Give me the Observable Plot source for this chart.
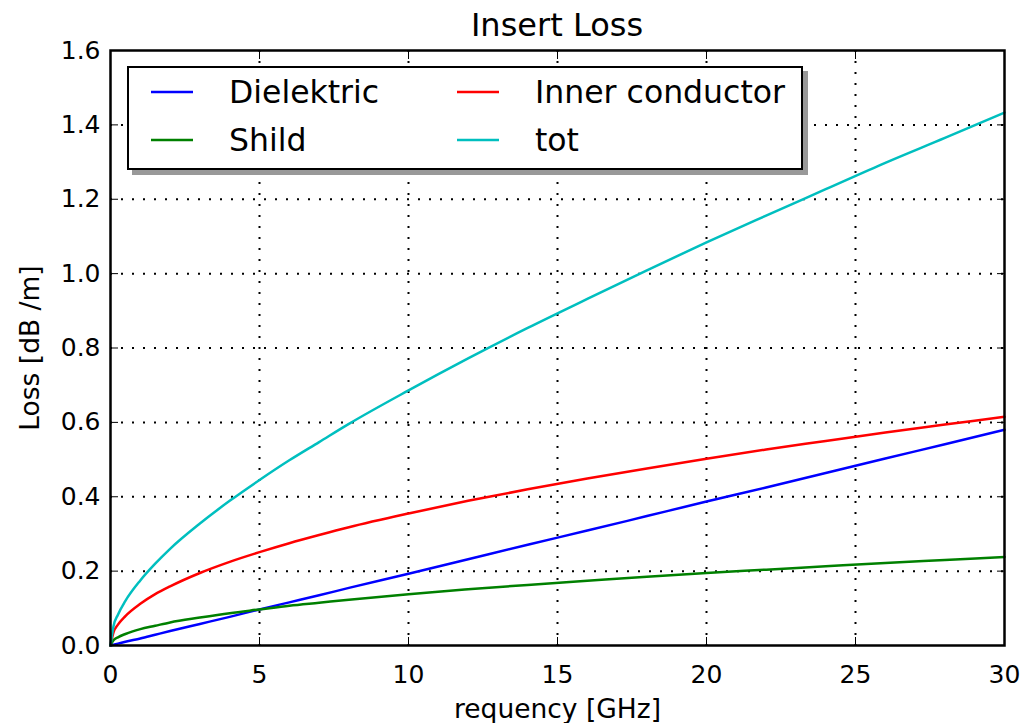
<!DOCTYPE html>
<html>
<head>
<meta charset="utf-8">
<script src="https://cdn.jsdelivr.net/npm/d3@7"></script>
<script src="https://cdn.jsdelivr.net/npm/@observablehq/plot@0.6"></script>
<style>
  html, body { margin: 0; padding: 0; background: white; }
  #wrap { position: relative; width: 1024px; height: 723px; font-family: "DejaVu Sans", sans-serif; }
  #title { position: absolute; left: 110px; width: 894px; top: 0; height: 40px; line-height: 50px; text-align: center; font-size: 32px; color: black; }
  #chart { position: absolute; left: 0; top: 40px; }
  #legend { position: absolute; left: 127px; top: 66px; width: 672px; height: 100px; border: 2px solid black; background: white; box-shadow: 5px 5px 0 #999; font-size: 31.5px; }
  .item { position: absolute; height: 40px; line-height: 40px; white-space: nowrap; }
  .item svg { position: absolute; top: 0; left: 0; }
  .item span { position: absolute; top: 0; }
</style>
</head>
<body>
<div id="wrap">
  <div id="title">Insert Loss</div>
  <div id="chart"></div>
  <div id="legend"></div>
</div>
<script>
// Frequency samples (GHz) and loss values (dB/m)
const freq       = [0, 0.1, 0.25, 0.5, 1, 1.5, 2, 3, 4, 5, 6, 7, 8, 10, 12, 14, 16, 18, 20, 22, 24, 26, 28, 30];
const dielektric = [0, 0.002, 0.005, 0.010, 0.019, 0.029, 0.039, 0.058, 0.077, 0.097, 0.116, 0.135, 0.155, 0.193, 0.232, 0.271, 0.309, 0.348, 0.387, 0.425, 0.464, 0.503, 0.541, 0.580];
const inner      = [0, 0.035, 0.056, 0.079, 0.112, 0.138, 0.159, 0.195, 0.225, 0.251, 0.275, 0.297, 0.318, 0.355, 0.389, 0.420, 0.449, 0.476, 0.502, 0.527, 0.550, 0.573, 0.594, 0.615];
const shild      = [0, 0.014, 0.022, 0.031, 0.044, 0.053, 0.062, 0.075, 0.087, 0.097, 0.107, 0.115, 0.123, 0.138, 0.151, 0.163, 0.174, 0.185, 0.195, 0.204, 0.213, 0.222, 0.230, 0.238];
const tot        = [0, 0.052, 0.083, 0.120, 0.175, 0.220, 0.260, 0.328, 0.389, 0.445, 0.498, 0.547, 0.596, 0.686, 0.772, 0.854, 0.932, 1.009, 1.084, 1.156, 1.227, 1.298, 1.365, 1.433];

const seriesNames  = ["Dielektric", "Inner conductor", "Shild", "tot"];
const seriesColors = ["#0000ff", "#ff0000", "#008000", "#00bfbf"];
const seriesValues = [dielektric, inner, shild, tot];

const xTicks = [0, 5, 10, 15, 20, 25, 30];
const yTicks = [0, 0.2, 0.4, 0.6, 0.8, 1.0, 1.2, 1.4, 1.6];

const rows = [];
seriesNames.forEach((name, s) => {
  freq.forEach((f, i) => rows.push({series: name, f, loss: seriesValues[s][i]}));
});

const lineMarks = seriesNames.map((name, s) =>
  Plot.line(rows.filter(d => d.series === name), {
    x: "f", y: "loss", stroke: seriesColors[s], strokeWidth: 2.5, curve: "monotone-x"
  })
);

const chart = Plot.plot({
  width: 1024,
  height: 683,
  marginLeft: 110,
  marginRight: 20,
  marginTop: 10,
  marginBottom: 78,
  style: {fontFamily: "DejaVu Sans, sans-serif", fontSize: "25px", color: "black", background: "white", overflow: "visible"},
  x: {domain: [0, 30]},
  y: {domain: [0, 1.6]},
  marks: [
    Plot.gridX(xTicks.slice(1, -1), {stroke: "black", strokeOpacity: 1, strokeWidth: 2, strokeDasharray: "2,9"}),
    Plot.gridY(yTicks.slice(1, -1), {stroke: "black", strokeOpacity: 1, strokeWidth: 2, strokeDasharray: "2,9"}),
    ...lineMarks,
    Plot.axisX(xTicks, {anchor: "bottom", tickSize: -8, tickPadding: 28, tickFormat: d3.format("d"), label: null, fontSize: 25}),
    Plot.axisX({anchor: "bottom", ticks: [], label: "requency [GHz]", labelAnchor: "center", labelOffset: 72, labelArrow: "none", fontSize: 26.5}),
    Plot.axisX(xTicks, {anchor: "top", tickSize: -8, tickFormat: () => "", label: null}),
    Plot.axisY(yTicks, {anchor: "left", tickSize: -8, tickPadding: 18, tickFormat: d3.format(".1f"), label: null, fontSize: 25}),
    Plot.axisY({anchor: "left", ticks: [], label: "Loss [dB /m]", labelAnchor: "center", labelOffset: 90, labelArrow: "none", fontSize: 26.5}),
    Plot.axisY(yTicks, {anchor: "right", tickSize: -8, tickFormat: () => "", label: null}),
    Plot.frame({stroke: "black", strokeWidth: 2.5})
  ]
});
document.getElementById("chart").appendChild(chart);

// Legend (two columns, matplotlib style with shadow)
const legend = document.getElementById("legend");
const legendPos = [[0, 0], [1, 0], [0, 1], [1, 1]]; // [col,row] for Dielektric, Inner conductor, Shild, tot
seriesNames.forEach((name, s) => {
  const [c, r] = legendPos[s];
  const item = document.createElement("div");
  item.className = "item";
  item.style.left = (c === 0 ? 20 : 326) + "px";
  item.style.top = (4 + r * 48) + "px";
  item.innerHTML = `<svg width="50" height="40"><line x1="2" x2="44" y1="20" y2="20" stroke="${seriesColors[s]}" stroke-width="2.5"/></svg><span style="left:80px">${name}</span>`;
  legend.appendChild(item);
});
</script>
</body>
</html>
